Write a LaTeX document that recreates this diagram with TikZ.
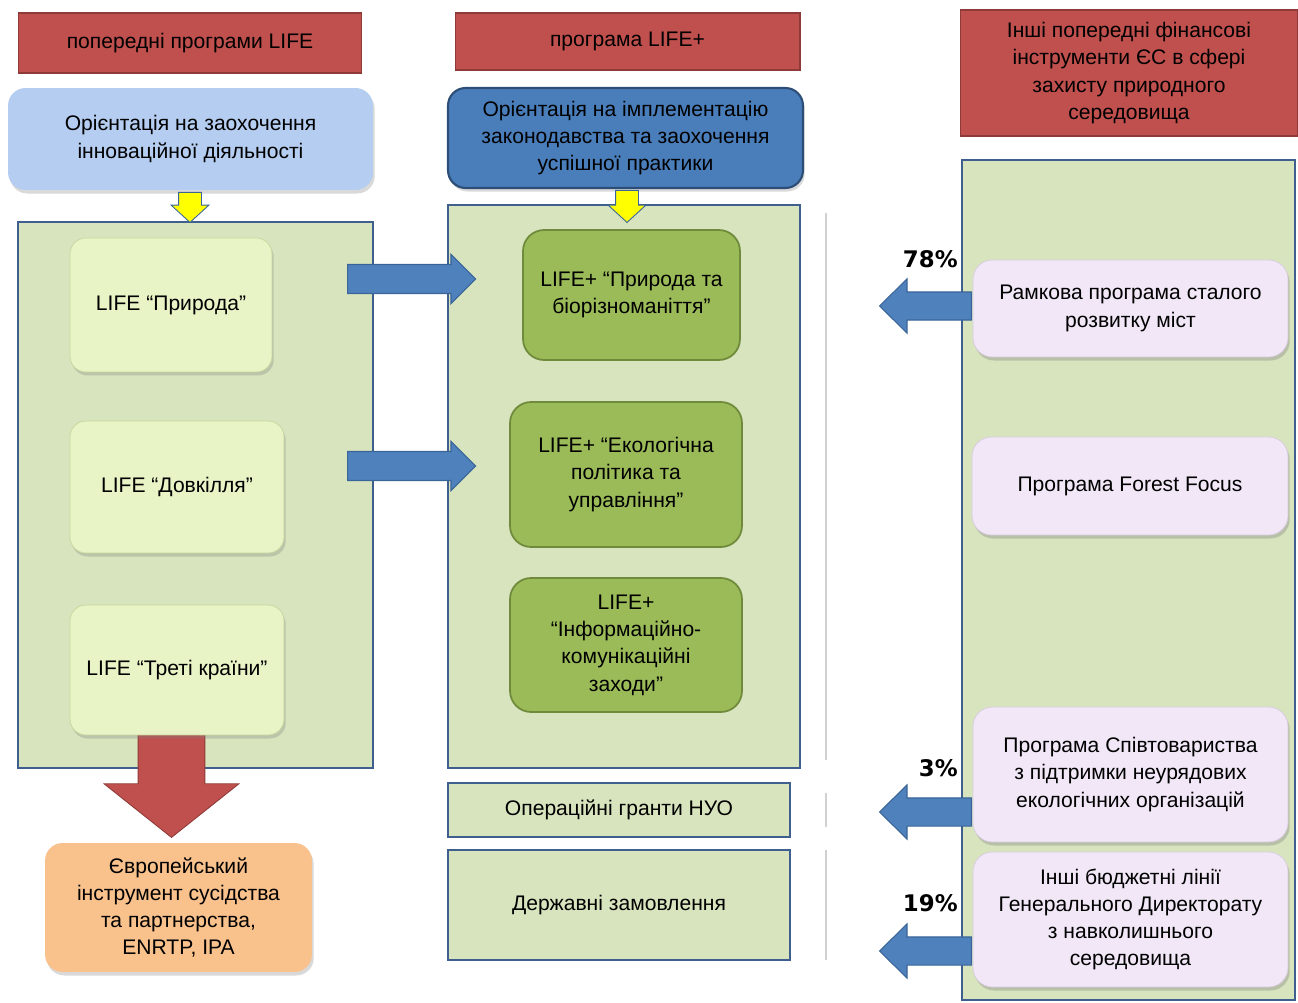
\documentclass[tikz,border=0pt]{standalone}
\usepackage{fontspec}
\setmainfont{Liberation Sans}
\newfontfamily\pctfont{DejaVu Sans}
\usetikzlibrary{shapes.arrows,shadows}

\definecolor{hdrred}{HTML}{C0504D}
\definecolor{hdrredline}{HTML}{8E3A38}
\definecolor{lightblue}{HTML}{B4CDF0}
\definecolor{darkblue}{HTML}{4A7EBB}
\definecolor{darkblueline}{HTML}{2C4D75}
\definecolor{panelgreen}{HTML}{D7E4BD}
\definecolor{panelline}{HTML}{3F5F8E}
\definecolor{oldgreen}{HTML}{E8F3C6}
\definecolor{oldline}{HTML}{C6D89E}
\definecolor{newgreen}{HTML}{9BBB59}
\definecolor{newline}{HTML}{6F8A3A}
\definecolor{orangefill}{HTML}{F9C28D}
\definecolor{pinkfill}{HTML}{F1E7F7}
\definecolor{pinkline}{HTML}{D8CCE0}
\definecolor{arrowblue}{HTML}{4F81BD}
\definecolor{arrowline}{HTML}{3A6598}
\definecolor{arrowred}{HTML}{C0504D}
\definecolor{yellowfill}{HTML}{FFFF00}

\begin{document}
\begin{tikzpicture}[
        x=0.02cm, y=-0.02cm,
        every node/.style={font=\fontsize{12}{15.5}\selectfont, align=center},
        header/.style={rectangle, draw=hdrredline, fill=hdrred, line width=0.6pt},
        panel/.style={rectangle, draw=panelline, fill=panelgreen, line width=1.6pt},
        aimbox/.style={rectangle, rounded corners=10pt, drop shadow={shadow xshift=1pt, shadow yshift=-2pt, opacity=0.3}},
        oldbox/.style={rectangle, rounded corners=9pt, draw=oldline, fill=oldgreen, drop shadow={shadow xshift=1pt, shadow yshift=-2pt, opacity=0.3}},
        newbox/.style={rectangle, rounded corners=12pt, draw=newline, fill=newgreen, line width=1pt},
        otherbox/.style={rectangle, rounded corners=11pt, draw=pinkline, fill=pinkfill, drop shadow={shadow xshift=1pt, shadow yshift=-2pt, opacity=0.35}},
        bluearrow/.style={single arrow, draw=arrowline, fill=arrowblue, line width=0.6pt, text height=0pt, text depth=0pt, inner xsep=0pt},
        yellowarrow/.style={single arrow, draw=arrowline, fill=yellowfill, line width=0.5pt, text height=0pt, text depth=0pt,
            inner xsep=0pt, inner ysep=0.22cm, single arrow head extend=0.15cm, single arrow tip angle=95, rotate=-90, anchor=tail},
        pct/.style={font=\fontsize{13}{15}\pctfont\bfseries, anchor=east, inner sep=0pt},
        sepline/.style={draw=black!18, line width=0.8pt}
    ]
    \useasboundingbox (0,0) rectangle (1298,1003);

    % Заголовки
    \node[header, minimum width=6.88cm, minimum height=1.2cm] (head1) at (190,43) {попередні програми LIFE};
    \node[header, minimum width=6.9cm, minimum height=1.14cm] (head2) at (627.5,41.5) {програма LIFE+};
    \node[header, minimum width=6.76cm, minimum height=2.52cm] (head3) at (1129,73) {Інші попередні фінансові\\інструменти ЄС в сфері\\захисту природного\\середовища};

    % Орієнтація
    \node[aimbox, fill=lightblue, minimum width=7.3cm, minimum height=2.04cm] (aim1) at (190.5,139) {Орієнтація на заохочення\\інноваційної діяльності};
    \node[aimbox, fill=darkblue, draw=darkblueline, line width=1.2pt, minimum width=7.1cm, minimum height=2cm] (aim2) at (625.5,138) {Орієнтація на імплементацію\\законодавства та заохочення\\успішної практики};

    % Панелі
    \node[panel, minimum width=7.1cm, minimum height=10.92cm] (panel1) at (195.5,495) {};
    \node[panel, minimum width=7.04cm, minimum height=11.26cm] (panel2) at (624,486.5) {};
    \node[panel, minimum width=6.66cm, minimum height=16.8cm] (panel3) at (1128.5,580) {};

    % Роздільні лінії
    \draw[sepline] (826,213) -- (826,760);
    \draw[sepline] (826,793) -- (826,827);
    \draw[sepline] (826,850) -- (826,960);

    % Жовті стрілки
    \node[yellowarrow, minimum height=0.6cm] (yel1) at (190,192) {};
    \node[yellowarrow, minimum height=0.64cm] (yel2) at (627,190) {};

    % Червона стрілка
    \node[single arrow, draw=hdrredline, fill=arrowred, line width=0.5pt, text height=0pt, text depth=0pt,
          inner xsep=0pt, inner ysep=0.66cm, single arrow head extend=0.68cm, single arrow tip angle=103,
          minimum height=2.08cm, rotate=-90, anchor=tail] (redarr) at (171.5,733) {};

    % Попередні програми LIFE
    \node[oldbox, minimum width=4.04cm, minimum height=2.68cm] (nature) at (171,305) {LIFE “Природа”};
    \node[oldbox, minimum width=4.28cm, minimum height=2.64cm] (environ) at (177,487) {LIFE “Довкілля”};
    \node[oldbox, minimum width=4.28cm, minimum height=2.6cm] (third) at (177,670) {LIFE “Треті країни”};

    % Програма LIFE+
    \node[newbox, minimum width=4.34cm, minimum height=2.6cm] (plusnature) at (631.5,295) {LIFE+ “Природа та\\біорізноманіття”};
    \node[newbox, minimum width=4.64cm, minimum height=2.9cm] (pluspolicy) at (626,474.5) {LIFE+ “Екологічна\\політика та\\управління”};
    \node[newbox, minimum width=4.64cm, minimum height=2.68cm] (plusinfo) at (626,645) {LIFE+\\“Інформаційно-\\комунікаційні\\заходи”};

    \node[panel, minimum width=6.84cm, minimum height=1.08cm] (grants) at (619,810) {Операційні гранти НУО};
    \node[panel, minimum width=6.84cm, minimum height=2.2cm] (orders) at (619,905) {Державні замовлення};

    \node[aimbox, fill=orangefill, minimum width=5.34cm, minimum height=2.58cm] (enpi) at (178.5,907.5) {Європейський\\інструмент сусідства\\та партнерства,\\ENRTP, IPA};

    % Сині стрілки
    \node[bluearrow, inner ysep=0.28cm, single arrow head extend=0.2cm, single arrow tip angle=90,
          minimum height=2.56cm, anchor=tail] (arr1) at (347,279) {};
    \node[bluearrow, inner ysep=0.28cm, single arrow head extend=0.2cm, single arrow tip angle=90,
          minimum height=2.56cm, anchor=tail] (arr2) at (347,466) {};
    \node[bluearrow, inner ysep=0.27cm, single arrow head extend=0.26cm, single arrow tip angle=89,
          minimum height=1.84cm, rotate=180, anchor=tail] (arr78) at (972,306) {};
    \node[bluearrow, inner ysep=0.27cm, single arrow head extend=0.26cm, single arrow tip angle=89,
          minimum height=1.84cm, rotate=180, anchor=tail] (arr3) at (972,812) {};
    \node[bluearrow, inner ysep=0.27cm, single arrow head extend=0.26cm, single arrow tip angle=89,
          minimum height=1.84cm, rotate=180, anchor=tail] (arr19) at (972,951) {};

    % Інші інструменти
    \node[otherbox, minimum width=6.3cm, minimum height=1.94cm] (cities) at (1130.5,308.5) {Рамкова програма сталого\\розвитку міст};
    \node[otherbox, minimum width=6.32cm, minimum height=1.96cm] (forest) at (1130,486) {Програма Forest Focus};
    \node[otherbox, minimum width=6.3cm, minimum height=2.7cm] (ngo) at (1130.5,774.5) {Програма Співтовариства\\з підтримки неурядових\\екологічних організацій};
    \node[otherbox, minimum width=6.3cm, minimum height=2.7cm] (budget) at (1130.5,919.5) {Інші бюджетні лінії\\Генерального Директорату\\з навколишнього\\середовища};

    % Відсотки
    \node[pct] (pct78) at (958,259) {78\%};
    \node[pct] (pct3) at (958,768) {3\%};
    \node[pct] (pct19) at (958,903) {19\%};

\end{tikzpicture}
\end{document}
